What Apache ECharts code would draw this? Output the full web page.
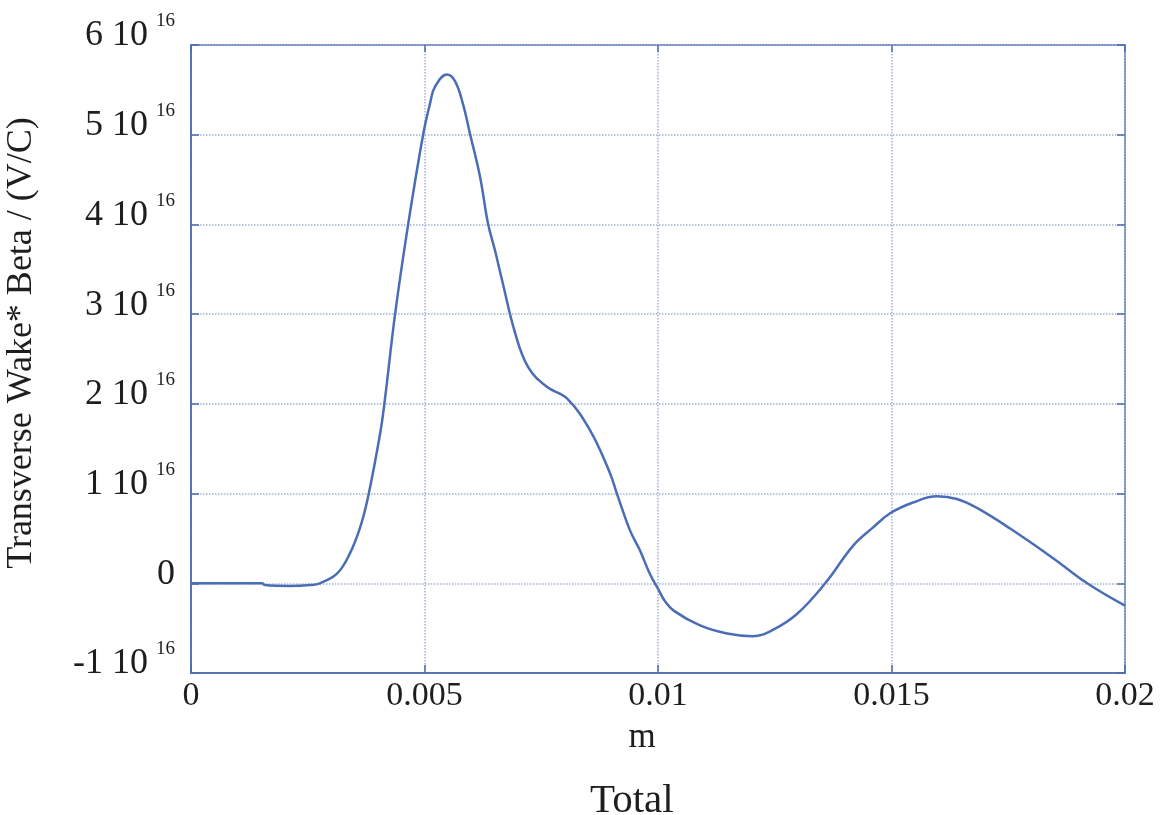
<!DOCTYPE html>
<html>
<head>
<meta charset="utf-8">
<script src="https://cdn.jsdelivr.net/npm/echarts@6/dist/echarts.min.js"></script>
<style>html,body{margin:0;padding:0;background:#fff}#c{width:1161px;height:815px}</style>
</head>
<body>
<div id="c"></div>
<script>
const positionM = [0, 0.000835, 0.00152, 0.00158, 0.00212, 0.00255, 0.00276, 0.00313, 0.00340, 0.00362, 0.00379, 0.00405, 0.00415, 0.00437, 0.00465, 0.00497, 0.00512, 0.00522, 0.00548, 0.00565, 0.00582, 0.00597, 0.00619, 0.00636, 0.00651, 0.00666, 0.00694, 0.00722, 0.00762, 0.00805, 0.00854, 0.00897, 0.00912, 0.00940, 0.00961, 0.00983, 0.01000, 0.01015, 0.01035, 0.01090, 0.01148, 0.01203, 0.01246, 0.01298, 0.01358, 0.01418, 0.01460, 0.01497, 0.01546, 0.01597, 0.01640, 0.01683, 0.01754, 0.01846, 0.01919, 0.02];
const wakeE16 = [0, 0, 0, -0.02, -0.03, -0.02, 0, 0.11, 0.33, 0.62, 0.96, 1.67, 2.04, 3.0, 4.0, 5.0, 5.35, 5.53, 5.67, 5.6, 5.35, 5.02, 4.53, 4.01, 3.71, 3.38, 2.79, 2.41, 2.19, 2.06, 1.71, 1.23, 1.0, 0.59, 0.37, 0.10, -0.06, -0.20, -0.31, -0.47, -0.56, -0.59, -0.52, -0.34, 0, 0.42, 0.62, 0.78, 0.9, 0.97, 0.94, 0.84, 0.61, 0.28, 0, -0.25];
const xTicks = [0, 0.005, 0.01, 0.015, 0.02];
const yTickMantissas = [-1, 0, 1, 2, 3, 4, 5, 6];
const titleText = 'Total';
const xName = 'm';
const yName = 'Transverse Wake* Beta / (V/C)';

const data = positionM.map((x, i) => [x, wakeE16[i] * 1e16]);
const serif = 'Liberation Serif';
const frameColor = '#4a69ad';
const gridColor = '#a3b2d3';
const textColor = '#1e1e1e';

function yFmt(v) {
  const m = Math.round(v / 1e16);
  if (!yTickMantissas.includes(m)) return '';
  if (m === 0) return '{a|0}';
  return '{a|' + m + ' 10}{s|16}';
}

const chart = echarts.init(document.getElementById('c'), null, {renderer: 'canvas'});
chart.setOption({
  animation: false,
  backgroundColor: '#fff',
  title: {
    text: titleText, left: 585, top: 776,
    textStyle: {fontFamily: serif, fontSize: 41, fontWeight: 'normal', color: textColor}
  },
  grid: {left: 191, right: 36, top: 45, bottom: 142, containLabel: false, outerBoundsMode: 'none',
    show: true, borderColor: frameColor, borderWidth: 1.5, backgroundColor: 'transparent'},
  xAxis: [{
    type: 'value', min: 0, max: 0.02, interval: 0.005,
    name: xName, nameLocation: 'middle', nameGap: 47,
    nameTextStyle: {fontFamily: serif, fontSize: 35, color: textColor, padding: [0, 32, 0, 0]},
    axisLine: {show: true, onZero: false, lineStyle: {color: frameColor, width: 1.5}},
    axisTick: {show: true, inside: true, length: 8, lineStyle: {color: frameColor, width: 1.5}},
    axisLabel: {fontFamily: serif, fontSize: 34, color: textColor, margin: 6,
      formatter: v => { const t = xTicks.find(k => Math.abs(k - v) < 1e-9); return t === undefined ? '' : String(t); }},
    splitLine: {show: true, lineStyle: {color: gridColor, type: 'dotted', width: 1.5}}
  }, {
    type: 'value', min: 0, max: 0.02, interval: 0.005, position: 'top',
    axisLine: {show: false, onZero: false}, axisLabel: {show: false}, splitLine: {show: false},
    axisTick: {show: true, inside: true, length: 7, lineStyle: {color: frameColor, width: 1.5}}
  }],
  yAxis: [{
    type: 'value', min: -1e16, max: 6e16, interval: 1e16,
    name: yName, nameLocation: 'middle', nameGap: 151,
    nameTextStyle: {fontFamily: serif, fontSize: 36, color: textColor, padding: [0, 0, 0, 32]},
    axisLine: {show: true, onZero: false, lineStyle: {color: frameColor, width: 1.5}},
    axisTick: {show: true, inside: true, length: 8, lineStyle: {color: frameColor, width: 1.5}},
    axisLabel: {
      margin: 16, formatter: yFmt, padding: [0, 0, 18, 0],
      rich: {
        a: {fontFamily: serif, fontSize: 36, color: textColor, lineHeight: 48},
        s: {fontFamily: serif, fontSize: 19, color: textColor, verticalAlign: 'top', lineHeight: 19, padding: [0, 0, 0, 8]}
      }
    },
    splitLine: {show: true, lineStyle: {color: gridColor, type: 'dotted', width: 1.5}}
  }, {
    type: 'value', min: -1e16, max: 6e16, interval: 1e16, position: 'right',
    axisLine: {show: false, onZero: false}, axisLabel: {show: false}, splitLine: {show: false},
    axisTick: {show: true, inside: true, length: 8, lineStyle: {color: frameColor, width: 1.5}}
  }],
  series: [{
    type: 'line', data: data, smooth: 0.4, showSymbol: false,
    lineStyle: {color: '#4a6db5', width: 2.5}, z: 5
  }]
});
</script>
</body>
</html>
